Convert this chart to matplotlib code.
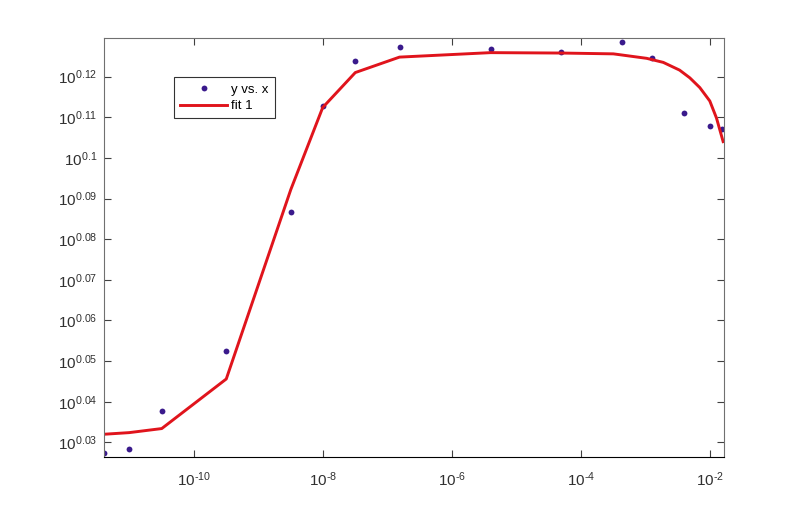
import numpy as np
import matplotlib
matplotlib.use('Agg')
import matplotlib.pyplot as plt

plt.rcParams['font.family'] = ['Liberation Sans', 'DejaVu Sans']
plt.rcParams['mathtext.default'] = 'regular'

# measured data (x on log scale, y given as log10 exponent)
x_data = [4.07e-12, 1.0e-11, 3.2e-11, 3.2e-10, 3.2e-9, 1.0e-8, 3.2e-8,
          1.6e-7, 4.0e-6, 5.0e-5, 4.4e-4, 1.25e-3, 4.0e-3, 1.0e-2, 1.57e-2]
y_exp = [0.0274, 0.0283, 0.0377, 0.0525, 0.0868, 0.1127, 0.1239,
         0.1272, 0.1269, 0.1260, 0.1285, 0.1245, 0.1110, 0.1079, 0.1071]

# fit curve
x_fit = [4.07e-12, 1.0e-11, 3.2e-11, 3.2e-10, 3.2e-9, 1.0e-8, 3.2e-8,
         1.55e-7, 4.0e-6, 5.0e-5, 3.2e-4, 1.05e-3, 1.9e-3, 3.4e-3,
         4.9e-3, 7.0e-3, 1.0e-2, 1.27e-2, 1.61e-2]
y_fit_exp = [0.0320, 0.0324, 0.0334, 0.0456, 0.0922, 0.1124, 0.1210,
             0.1248, 0.1259, 0.1258, 0.1256, 0.1245, 0.1235, 0.1216,
             0.1197, 0.1173, 0.1140, 0.1098, 0.1040]

y_ticks_exp = [0.03, 0.04, 0.05, 0.06, 0.07, 0.08, 0.09, 0.10, 0.11, 0.12]
y_tick_labels = ['0.03', '0.04', '0.05', '0.06', '0.07', '0.08', '0.09', '0.1', '0.11', '0.12']
x_ticks_exp = [-10, -8, -6, -4, -2]

y_data = 10 ** np.array(y_exp)
y_fit = 10 ** np.array(y_fit_exp)

fig = plt.figure(figsize=(8, 5.15), dpi=100)
ax = fig.add_axes([0.13, 0.1126, 0.775, 0.8136])

ax.plot(x_data, y_data, linestyle='none', marker='o', markersize=4.2,
        color='#3a1a8c', markeredgewidth=0, label='y vs. x')
ax.plot(x_fit, y_fit, color='#e0141c', linewidth=2.1, label='fit 1')

ax.set_xscale('log')
ax.set_yscale('log')
ax.set_xlim(10 ** -11.39, 10 ** -1.78)
ax.set_ylim(10 ** 0.0264, 10 ** 0.1295)

ax.set_xticks([10.0 ** e for e in x_ticks_exp])
ax.set_xticklabels(['$10^{\u2010%d}$' % abs(e) for e in x_ticks_exp])
ax.set_yticks(10 ** np.array(y_ticks_exp))
ax.set_yticklabels(['$10^{%s}$' % t for t in y_tick_labels])
ax.minorticks_off()

ax.tick_params(direction='in', length=5, width=0.8, top=True, right=True,
               labelsize=11, labelcolor='#303030', color='#404040')
ax.tick_params(axis='x', pad=10)
ax.tick_params(axis='y', pad=5)
for side in ['left', 'right', 'top']:
    ax.spines[side].set_color('#707070')
ax.spines['bottom'].set_color('black')

leg = ax.legend(loc='upper left', bbox_to_anchor=(0.113, 0.906), fontsize=9.5,
                frameon=True, fancybox=False, borderaxespad=0, handlelength=3.6,
                handletextpad=0.3, labelspacing=0.35, borderpad=0.45)
leg.get_frame().set_edgecolor('black')
leg.get_frame().set_linewidth(0.8)

fig.savefig('out.png', dpi=100)
